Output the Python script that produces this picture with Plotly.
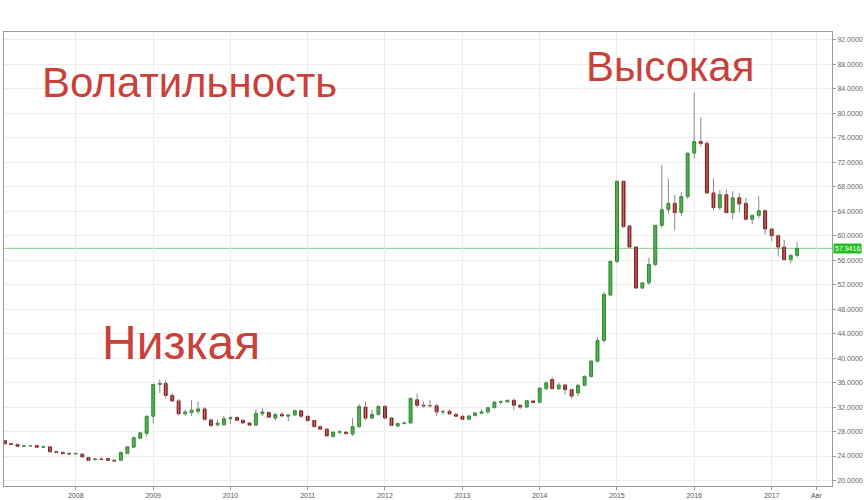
import pandas as pd
import plotly.graph_objects as go

# Monthly USD/RUB candles, Feb 2007 .. May 2017
months = pd.date_range("2007-02-01", "2017-05-01", freq="MS")

opens = [
    # 2007 Feb-Dec
    26.5, 26.0, 25.9, 25.6, 25.65, 25.7, 25.45, 25.5, 24.7, 24.6, 24.4,
    # 2008
    24.35, 24.3, 23.75, 23.4, 23.5, 23.6, 23.3, 23.3, 24.4, 25.45, 26.9, 27.7,
    # 2009
    30.5, 35.7, 35.85, 33.9, 33.0, 30.9, 31.1, 31.3, 31.7, 29.9, 29.1, 29.1,
    # 2010
    30.1, 30.3, 29.85, 29.4, 29.05, 30.9, 31.1, 30.2, 30.8, 30.5, 30.7, 31.4,
    # 2011
    30.5, 29.8, 28.8, 28.4, 27.2, 27.9, 27.9, 27.6, 28.8, 32.0, 30.2, 30.8,
    # 2012
    32.1, 30.2, 28.9, 29.3, 29.4, 33.2, 32.3, 32.2, 32.2, 31.2, 31.3, 30.8,
    # 2013
    30.5, 30.0, 30.6, 31.0, 31.2, 31.9, 32.8, 32.85, 33.1, 32.3, 32.0, 33.0,
    # 2014
    32.8, 35.0, 36.5, 35.0, 35.6, 34.85, 34.3, 35.55, 37.0, 39.5, 42.9, 50.3,
    # 2015
    55.8, 68.9, 61.6, 58.15, 51.45, 52.3, 55.3, 61.7, 64.25, 65.3, 63.8, 66.4,
    # 2016
    73.5, 75.4, 75.1, 67.0, 64.6, 66.7, 63.8, 66.2, 65.3, 62.7, 63.3, 64.1,
    # 2017 Jan-May
    61.1, 60.0, 58.15, 56.1, 56.8,
]
highs = [
    26.6, 26.1, 26.0, 25.8, 25.8, 25.75, 25.7, 25.6, 24.9, 24.7, 24.6,
    24.6, 24.5, 23.9, 23.7, 23.8, 23.7, 23.45, 24.7, 25.6, 27.2, 27.9, 30.6,
    35.8, 36.5, 36.4, 34.3, 33.3, 31.6, 33.1, 32.9, 32.0, 30.1, 30.0, 30.6,
    30.5, 30.5, 29.95, 29.5, 31.6, 31.8, 31.3, 31.0, 31.2, 30.9, 31.6, 31.5,
    30.6, 29.9, 29.0, 28.5, 28.0, 28.2, 28.0, 30.2, 32.5, 32.9, 31.6, 32.3,
    32.3, 30.4, 29.5, 29.6, 33.6, 34.2, 32.9, 33.2, 32.5, 31.6, 31.7, 31.0,
    30.6, 30.7, 31.2, 31.7, 32.0, 33.0, 33.1, 33.2, 33.4, 32.4, 33.2, 33.2,
    35.2, 36.2, 36.9, 36.0, 35.8, 35.0, 35.8, 37.2, 39.7, 43.4, 50.8, 56.0,
    69.0, 69.0, 61.8, 58.3, 52.4, 56.4, 61.8, 71.6, 69.3, 66.7, 67.1, 73.6,
    83.4, 79.3, 75.5, 69.4, 67.5, 67.6, 67.3, 67.0, 66.2, 63.5, 66.5, 64.3,
    61.3, 60.2, 59.35, 57.0, 59.0,
]
lows = [
    25.9, 25.8, 25.5, 25.5, 25.5, 25.35, 25.4, 24.6, 24.5, 24.3, 24.25,
    24.3, 23.8, 23.2, 23.3, 23.3, 23.25, 23.1, 23.2, 24.3, 25.3, 26.8, 27.2,
    29.3, 34.3, 33.4, 32.9, 30.6, 30.6, 30.5, 30.9, 29.8, 28.7, 28.8, 28.9,
    29.2, 29.8, 29.3, 28.9, 29.0, 30.5, 30.2, 29.8, 30.4, 29.7, 30.6, 30.3,
    29.6, 28.7, 28.2, 27.2, 27.0, 27.6, 27.5, 27.3, 28.6, 29.8, 30.0, 30.6,
    30.0, 28.9, 28.8, 29.2, 29.3, 31.9, 31.9, 31.9, 30.5, 30.8, 30.7, 30.4,
    29.9, 29.9, 30.5, 30.8, 30.9, 31.8, 32.4, 32.7, 31.5, 31.7, 31.9, 32.6,
    32.6, 34.7, 34.9, 34.8, 34.0, 33.4, 33.8, 35.4, 36.8, 39.3, 42.5, 50.2,
    55.5, 61.3, 58.0, 51.3, 51.3, 52.0, 55.0, 61.3, 63.5, 60.9, 63.2, 66.0,
    72.6, 74.6, 66.8, 64.1, 64.2, 63.6, 62.7, 63.8, 62.5, 61.9, 62.9, 60.2,
    59.1, 56.6, 55.9, 55.5, 56.5,
]
closes = [
    26.0, 25.9, 25.6, 25.65, 25.7, 25.45, 25.5, 24.7, 24.6, 24.4, 24.35,
    24.4, 23.85, 23.3, 23.5, 23.45, 23.3, 23.2, 24.6, 25.5, 27.0, 27.8, 30.5,
    35.7, 35.85, 33.9, 33.0, 30.9, 31.2, 31.5, 31.7, 30.0, 29.0, 29.4, 30.1,
    30.25, 29.85, 29.4, 29.05, 31.0, 31.2, 30.35, 30.8, 30.55, 30.7, 31.4, 30.5,
    29.8, 28.8, 28.4, 27.3, 27.9, 27.95, 27.7, 28.8, 32.1, 30.2, 30.8, 32.1,
    30.2, 29.0, 29.3, 29.4, 33.4, 32.3, 32.2, 32.25, 31.2, 31.25, 30.9, 30.5,
    30.0, 30.55, 31.05, 31.2, 31.9, 32.8, 32.9, 33.1, 32.3, 32.0, 33.05, 32.75,
    35.1, 35.95, 35.0, 35.6, 34.85, 33.8, 35.55, 37.0, 39.5, 42.9, 50.4, 55.8,
    68.9, 61.5, 58.15, 51.45, 52.3, 55.3, 61.7, 64.25, 65.3, 63.8, 66.4, 73.5,
    75.4, 75.1, 67.0, 64.6, 66.7, 63.8, 66.2, 65.2, 62.7, 63.3, 64.1, 61.1,
    60.0, 58.15, 56.1, 56.8, 57.94,
]

last_price = 57.94
last_label = "57.9416"

x_tickvals = ["2008-01-01", "2009-01-01", "2010-01-01", "2011-01-01", "2012-01-01",
              "2013-01-01", "2014-01-01", "2015-01-01", "2016-01-01", "2017-01-01",
              "2017-08-01"]
x_ticktext = ["2008", "2009", "2010", "2011", "2012", "2013", "2014", "2015",
              "2016", "2017", "Авг"]
y_tickvals = [20, 24, 28, 32, 36, 40, 44, 48, 52, 56, 60, 64, 68, 72, 76, 80, 84, 88, 92]
y_ticktext = ["%.4f" % v for v in y_tickvals]

labels = ["Волатильность", "Высокая", "Низкая"]

fig = go.Figure()

# wicks (grey) drawn from high/low data
wx, wy = [], []
for d, h, l in zip(months, highs, lows):
    wx += [d, d, None]
    wy += [l, h, None]
fig.add_trace(go.Scatter(x=wx, y=wy, mode="lines",
                         line=dict(color="#8a8a8a", width=1),
                         hoverinfo="skip", showlegend=False))

# candle bodies
body_hi = [max(o, c) for o, c in zip(opens, closes)]
body_lo = [min(o, c) for o, c in zip(opens, closes)]
fig.add_trace(go.Candlestick(
    x=months, open=opens, high=body_hi, low=body_lo, close=closes,
    increasing=dict(fillcolor="#30bf30", line=dict(color="#1f8f1f", width=1)),
    decreasing=dict(fillcolor="#b81f1f", line=dict(color="#8c1414", width=1)),
    showlegend=False,
))

fig.add_shape(type="line", xref="paper", x0=0, x1=1, yref="y",
              y0=last_price, y1=last_price,
              line=dict(color="#7fd27f", width=1), layer="below")

fig.add_annotation(xref="paper", x=1.0, yref="y", y=last_price,
                   xanchor="left", yanchor="middle", text=last_label,
                   showarrow=False, bgcolor="#1fbf1f",
                   font=dict(family="Liberation Sans, Arial", size=7, color="white"),
                   borderpad=1, xshift=1)

red = "#c8423b"
fig.add_annotation(xref="paper", yref="paper", x=0.043, y=0.889,
                   xanchor="left", yanchor="middle", text=labels[0],
                   showarrow=False,
                   font=dict(family="Liberation Sans, Arial, sans-serif", size=42, color=red))
fig.add_annotation(xref="paper", yref="paper", x=0.701, y=0.923,
                   xanchor="left", yanchor="middle", text=labels[1],
                   showarrow=False,
                   font=dict(family="Liberation Sans, Arial, sans-serif", size=42, color=red))
fig.add_annotation(xref="paper", yref="paper", x=0.116, y=0.315,
                   xanchor="left", yanchor="middle", text=labels[2],
                   showarrow=False,
                   font=dict(family="Liberation Sans, Arial, sans-serif", size=48, color=red))

fig.update_layout(
    width=864, height=500,
    margin=dict(l=4, r=32, t=32, b=14),
    paper_bgcolor="white", plot_bgcolor="white",
    showlegend=False,
    xaxis=dict(
        type="date", range=["2007-01-27", "2017-10-13"],
        rangeslider=dict(visible=False),
        tickvals=x_tickvals, ticktext=x_ticktext,
        tickfont=dict(family="Liberation Sans, Arial", size=7, color="#555"),
        ticks="outside", ticklen=3, tickcolor="#999",
        showgrid=True, gridcolor="#ededed", gridwidth=1,
        showline=True, linecolor="#9a9a9a", linewidth=1, mirror=True,
        zeroline=False, automargin=False,
    ),
    yaxis=dict(
        side="right", range=[19.1, 93.3],
        tickvals=y_tickvals, ticktext=y_ticktext,
        tickfont=dict(family="Liberation Sans, Arial", size=7, color="#666"),
        ticks="outside", ticklen=3, tickcolor="#999",
        showgrid=True, gridcolor="#ededed", gridwidth=1,
        showline=True, linecolor="#9a9a9a", linewidth=1, mirror=True,
        zeroline=False, automargin=False,
    ),
)

fig.write_html("out.html", config={"displayModeBar": False},
               post_script="document.body.style.margin='0';document.body.style.overflow='hidden';")
